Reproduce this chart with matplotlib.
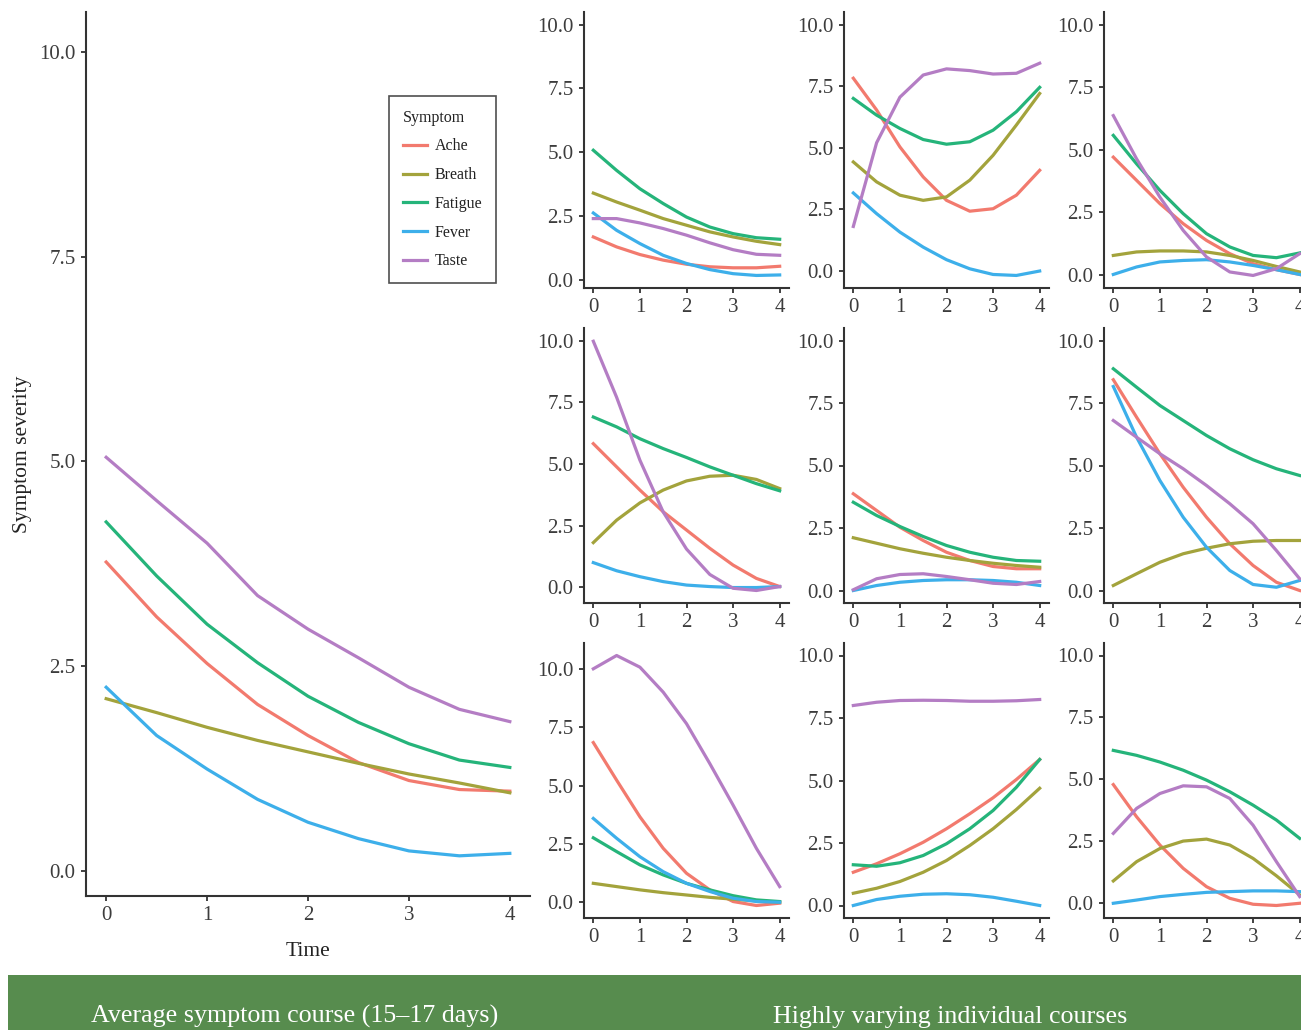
import matplotlib
matplotlib.use("Agg")
import matplotlib.pyplot as plt
from matplotlib.patches import Rectangle

plt.rcParams['font.family'] = ['Liberation Serif', 'DejaVu Serif']

# ---------------- data ----------------
time = [0, 0.5, 1, 1.5, 2, 2.5, 3, 3.5, 4]
symptoms = ["Ache", "Breath", "Fatigue", "Fever", "Taste"]
colors = {"Ache": "#F27A6E", "Breath": "#A3A33C", "Fatigue": "#25B47A",
          "Fever": "#3DAFEA", "Taste": "#B47DC4"}

# average course
avg_ache    = [3.77, 3.10, 2.53, 2.03, 1.65, 1.32, 1.10, 0.99, 0.97]
avg_breath  = [2.10, 1.93, 1.75, 1.59, 1.45, 1.31, 1.18, 1.07, 0.95]
avg_fatigue = [4.26, 3.60, 3.01, 2.54, 2.13, 1.81, 1.55, 1.35, 1.26]
avg_fever   = [2.24, 1.65, 1.24, 0.87, 0.59, 0.39, 0.24, 0.18, 0.21]
avg_taste   = [5.05, 4.52, 4.00, 3.36, 2.95, 2.60, 2.24, 1.97, 1.82]

# individual courses (row, col)
p11_ache    = [1.67, 1.28, 0.98, 0.76, 0.60, 0.50, 0.46, 0.46, 0.52]
p11_breath  = [3.39, 3.04, 2.72, 2.39, 2.13, 1.87, 1.67, 1.50, 1.37]
p11_fatigue = [5.07, 4.28, 3.56, 2.98, 2.45, 2.06, 1.80, 1.64, 1.58]
p11_fever   = [2.61, 1.93, 1.41, 0.95, 0.63, 0.39, 0.23, 0.16, 0.18]
p11_taste   = [2.39, 2.39, 2.22, 2.00, 1.74, 1.44, 1.17, 0.99, 0.95]

p12_ache    = [7.82, 6.53, 5.03, 3.81, 2.86, 2.42, 2.52, 3.07, 4.08]
p12_breath  = [4.42, 3.61, 3.07, 2.86, 3.00, 3.68, 4.69, 5.92, 7.20]
p12_fatigue = [7.00, 6.32, 5.78, 5.33, 5.14, 5.24, 5.71, 6.46, 7.45]
p12_fever   = [3.16, 2.32, 1.57, 0.96, 0.45, 0.08, -0.15, -0.19, -0.01]
p12_taste   = [1.80, 5.20, 7.05, 7.95, 8.20, 8.13, 7.99, 8.02, 8.43]

p13_ache    = [4.70, 3.77, 2.84, 2.04, 1.37, 0.84, 0.44, 0.20, 0.01]
p13_breath  = [0.77, 0.91, 0.95, 0.95, 0.91, 0.77, 0.57, 0.33, 0.11]
p13_fatigue = [5.57, 4.43, 3.37, 2.44, 1.64, 1.11, 0.77, 0.68, 0.87]
p13_fever   = [0.01, 0.31, 0.51, 0.57, 0.60, 0.51, 0.37, 0.20, 0.01]
p13_taste   = [6.36, 4.63, 3.10, 1.77, 0.71, 0.11, -0.03, 0.24, 0.84]

p21_ache    = [5.82, 4.88, 3.94, 3.06, 2.32, 1.58, 0.90, 0.36, 0.03]
p21_breath  = [1.81, 2.72, 3.42, 3.94, 4.31, 4.50, 4.54, 4.37, 4.00]
p21_fatigue = [6.90, 6.50, 6.02, 5.62, 5.26, 4.88, 4.54, 4.20, 3.91]
p21_fever   = [1.00, 0.67, 0.43, 0.23, 0.09, 0.03, -0.01, -0.01, 0.03]
p21_taste   = [9.97, 7.70, 5.15, 3.05, 1.55, 0.52, -0.04, -0.13, 0.03]

p22_ache    = [3.87, 3.20, 2.53, 2.00, 1.53, 1.20, 0.96, 0.87, 0.87]
p22_breath  = [2.11, 1.89, 1.67, 1.49, 1.33, 1.20, 1.09, 1.00, 0.93]
p22_fatigue = [3.53, 3.00, 2.56, 2.16, 1.80, 1.53, 1.33, 1.20, 1.17]
p22_fever   = [0.00, 0.20, 0.33, 0.40, 0.43, 0.43, 0.40, 0.33, 0.20]
p22_taste   = [0.03, 0.47, 0.64, 0.67, 0.56, 0.43, 0.29, 0.24, 0.36]

p23_ache    = [8.43, 6.93, 5.47, 4.13, 2.93, 1.87, 1.00, 0.33, 0.00]
p23_breath  = [0.20, 0.67, 1.13, 1.47, 1.69, 1.87, 1.97, 2.00, 2.00]
p23_fatigue = [8.87, 8.13, 7.40, 6.80, 6.20, 5.67, 5.23, 4.87, 4.60]
p23_fever   = [8.16, 6.13, 4.40, 2.93, 1.73, 0.80, 0.24, 0.13, 0.40]
p23_taste   = [6.80, 6.13, 5.47, 4.87, 4.20, 3.47, 2.67, 1.60, 0.47]

p31_ache    = [6.84, 5.23, 3.66, 2.31, 1.24, 0.53, 0.03, -0.14, -0.04]
p31_breath  = [0.81, 0.67, 0.53, 0.41, 0.31, 0.21, 0.13, 0.06, 0.00]
p31_fatigue = [2.76, 2.17, 1.60, 1.17, 0.81, 0.53, 0.28, 0.10, 0.03]
p31_fever   = [3.59, 2.74, 1.95, 1.31, 0.81, 0.46, 0.17, 0.03, 0.00]
p31_taste   = [10.00, 10.57, 10.07, 9.00, 7.65, 5.94, 4.16, 2.31, 0.67]

p32_ache    = [1.33, 1.67, 2.07, 2.53, 3.07, 3.67, 4.31, 5.04, 5.84]
p32_breath  = [0.49, 0.69, 0.96, 1.33, 1.80, 2.40, 3.07, 3.84, 4.69]
p32_fatigue = [1.63, 1.57, 1.71, 2.00, 2.47, 3.07, 3.80, 4.73, 5.84]
p32_fever   = [0.00, 0.24, 0.37, 0.45, 0.47, 0.43, 0.33, 0.17, 0.00]
p32_taste   = [8.00, 8.13, 8.20, 8.21, 8.20, 8.17, 8.17, 8.19, 8.24]

p33_ache    = [4.79, 3.49, 2.35, 1.41, 0.67, 0.20, -0.04, -0.09, 0.00]
p33_breath  = [0.90, 1.68, 2.21, 2.51, 2.59, 2.35, 1.81, 1.11, 0.34]
p33_fatigue = [6.17, 5.97, 5.70, 5.37, 4.97, 4.50, 3.96, 3.36, 2.62]
p33_fever   = [0.00, 0.13, 0.27, 0.36, 0.44, 0.47, 0.50, 0.50, 0.47]
p33_taste   = [2.82, 3.83, 4.43, 4.74, 4.70, 4.23, 3.15, 1.68, 0.27]

y_ticks = [0.0, 2.5, 5.0, 7.5, 10.0]
x_ticks = [0, 1, 2, 3, 4]

average = [avg_ache, avg_breath, avg_fatigue, avg_fever, avg_taste]
panels = [
    [[p11_ache, p11_breath, p11_fatigue, p11_fever, p11_taste],
     [p12_ache, p12_breath, p12_fatigue, p12_fever, p12_taste],
     [p13_ache, p13_breath, p13_fatigue, p13_fever, p13_taste]],
    [[p21_ache, p21_breath, p21_fatigue, p21_fever, p21_taste],
     [p22_ache, p22_breath, p22_fatigue, p22_fever, p22_taste],
     [p23_ache, p23_breath, p23_fatigue, p23_fever, p23_taste]],
    [[p31_ache, p31_breath, p31_fatigue, p31_fever, p31_taste],
     [p32_ache, p32_breath, p32_fatigue, p32_fever, p32_taste],
     [p33_ache, p33_breath, p33_fatigue, p33_fever, p33_taste]],
]

# ---------------- figure ----------------
W, H = 1301, 1030
fig = plt.figure(figsize=(W / 100, H / 100), dpi=100)
fig.patch.set_facecolor("white")

AXCOL = "#333333"
TXTCOL = "#3c3c3c"


def px_rect(left, top, right, bottom):
    return [left / W, 1 - bottom / H, (right - left) / W, (bottom - top) / H]


def style(ax, series):
    for s in ("top", "right"):
        ax.spines[s].set_visible(False)
    for s in ("left", "bottom"):
        ax.spines[s].set_color(AXCOL)
        ax.spines[s].set_linewidth(1.5)
    ax.tick_params(direction="out", length=3.5, width=1.3, color=AXCOL,
                   labelcolor=TXTCOL, labelsize=15, pad=4)
    ax.set_xticks(x_ticks)
    ax.set_xticklabels([str(v) for v in x_ticks])
    ax.set_yticks(y_ticks)
    ax.set_yticklabels([f"{v:.1f}" for v in y_ticks])
    lo = min(min(s) for s in series)
    hi = max(10.0, max(max(s) for s in series))
    rng = hi - lo
    ax.set_ylim(lo - 0.05 * rng, hi + 0.05 * rng)
    ax.set_xlim(-0.2, 4.2)
    ax.set_facecolor("white")


# main panel
ax = fig.add_axes(px_rect(86, 12, 530, 896))
for name, vals in zip(symptoms, average):
    ax.plot(time, vals, color=colors[name], lw=2.3, label=name)
style(ax, average)
ax.set_xlabel("Time", fontsize=15.5, color="#222222", labelpad=12)
ax.set_ylabel("Symptom severity", fontsize=15.5, color="#222222", labelpad=5)
leg = ax.legend(title="Symptom", loc="upper left",
                bbox_to_anchor=(389 / W, 1 - 96 / H),
                bbox_transform=fig.transFigure, borderaxespad=0,
                fontsize=11.5, title_fontsize=11.5, frameon=True,
                fancybox=False, handlelength=1.5, handletextpad=0.5,
                labelspacing=0.8, borderpad=0.85, alignment="left")
leg.get_frame().set_edgecolor("#222222")
leg.get_frame().set_linewidth(1.2)
for t in leg.get_texts():
    t.set_color("#222222")
leg.get_title().set_color("#222222")

# small panels
col_left = [584, 844, 1104]
row_top = [12, 328, 643]
row_bot = [288, 603, 918]
for r in range(3):
    for c in range(3):
        a = fig.add_axes(px_rect(col_left[c], row_top[r],
                                 col_left[c] + 205, row_bot[r]))
        series = panels[r][c]
        for name, vals in zip(symptoms, series):
            a.plot(time, vals, color=colors[name], lw=2.3)
        style(a, series)

# bottom banner
fig.patches.append(Rectangle((8 / W, 0), (W - 8) / W, 55 / H,
                             transform=fig.transFigure,
                             facecolor="#578C4E", edgecolor="none"))
fig.text(91 / W, 1 - 1023 / H, "Average symptom course (15\u201317 days)",
         color="white", fontsize=18.7, ha="left", va="baseline")
fig.text(773 / W, 1 - 1023 / H, "Highly varying individual courses",
         color="white", fontsize=18.7, ha="left", va="baseline")

fig.savefig("out.png", dpi=100, facecolor="white")
